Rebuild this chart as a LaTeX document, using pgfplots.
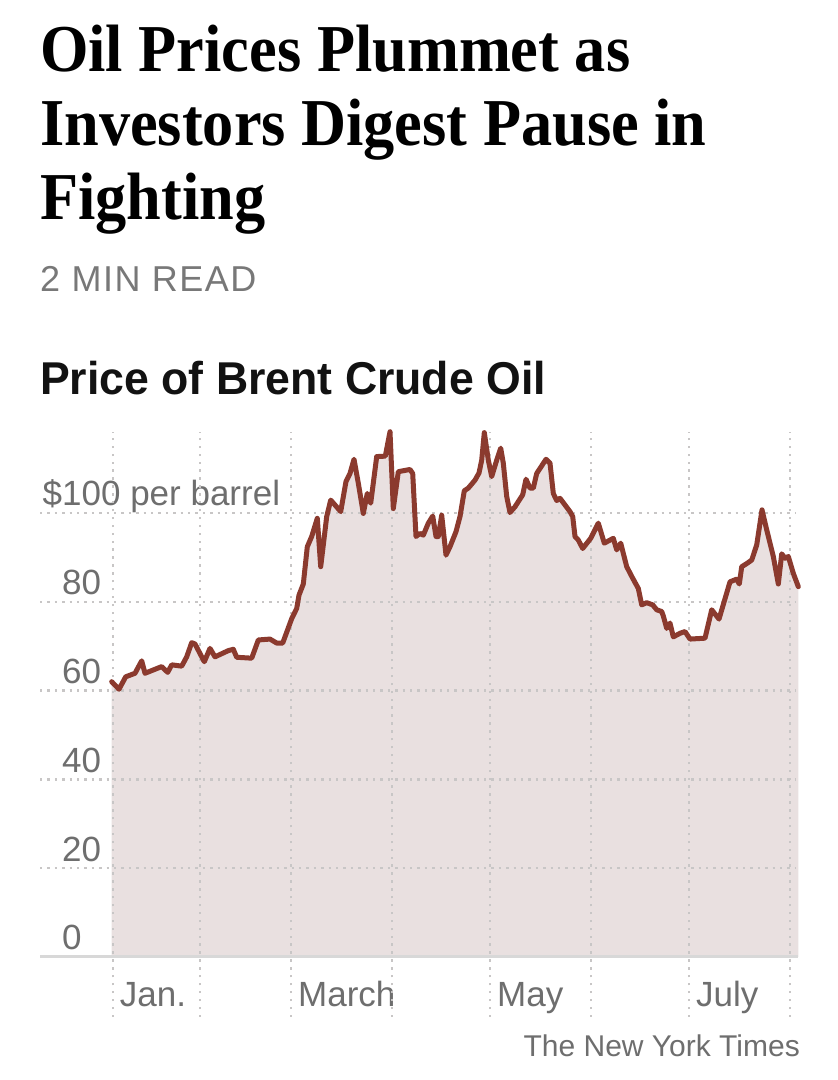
\documentclass[border=0pt]{standalone}
\usepackage{fontspec}
\setmainfont{Liberation Sans}
\newfontfamily\titlefont{Liberation Serif}[FakeStretch=0.93]
\newfontfamily\readfont{Liberation Sans}[LetterSpace=4]
\newfontfamily\headfont{Liberation Sans}[FakeStretch=0.97]
\usepackage{pgfplots}
\usepackage{pgfplotstable}
\pgfplotsset{compat=1.18}
\definecolor{linec}{RGB}{139,58,46}
\definecolor{fillc}{RGB}{233,224,224}
\definecolor{gridc}{RGB}{200,198,198}
\definecolor{labc}{RGB}{110,110,110}
\definecolor{basec}{RGB}{216,216,216}
\definecolor{readc}{RGB}{120,120,120}

% x = horizontal position (chart units, Jan 1 = 112.7, Aug 1 = 790), y = US$ per barrel
\pgfplotstableread{
x y
111.7 62.0
119 60.3
125.7 63.1
135 63.9
141.7 66.7
145 63.9
161.7 65.4
167.7 64.1
171.7 65.8
181.7 65.5
186.7 67.6
191.7 70.8
195 70.5
204.3 66.5
210 69.5
215 67.6
228.3 69.0
233.3 69.3
236.7 67.5
251.7 67.3
258.3 71.4
270 71.6
276.7 70.7
282.7 70.7
291.7 76.2
296.7 78.5
299 81.5
303.3 84.0
307.3 92.4
311.7 94.7
317.3 98.8
320.7 87.9
326.7 99.2
330.7 102.9
335 101.8
340.7 100.3
346 107.1
350 108.9
354 112.1
358.3 106.7
363.3 99.9
367.3 104.4
370.7 102.2
376.7 112.7
385.3 112.8
390 118.3
393.3 101.0
398.3 109.3
410 109.8
412.7 108.9
416 94.7
420 95.4
423.3 95.0
428.3 97.7
432.7 99.3
436 94.7
438.3 94.7
441.7 99.5
446 90.5
450 92.4
456 95.8
460 99.2
464.3 105.0
468.3 105.6
475 107.4
479 109.0
481.7 111.9
484.3 118.1
488.3 111.9
491.7 108.2
496.7 111.9
500.7 114.6
503.3 111.2
506.7 103.7
510 100.1
515 101.4
522.7 104.1
526 107.6
530 105.6
533.3 105.6
536.7 108.9
546 112.1
550 111.2
553.3 104.4
556.7 102.8
560 103.3
570 100.3
572.7 99.2
575 94.7
578.3 93.9
582.7 92.0
590.7 94.3
598.3 97.7
604.3 93.2
613.3 94.3
616.7 91.7
620.7 93.2
626.7 87.9
632.7 85.3
638.3 83.0
641.7 79.3
646.7 79.8
652.7 79.3
656.7 78.2
661.7 77.8
663.3 76.8
666.7 74.0
670 75.2
673.3 72.1
680 72.9
685 73.3
690 71.6
705 71.8
711.7 78.2
719 76.1
730 84.5
736.7 85.1
739.3 84.0
741.7 87.9
746.7 88.6
751.7 89.4
756.7 92.8
762 100.7
766.7 96.2
773.3 90.2
778.3 84.0
781.7 90.8
785 89.8
788.3 90.2
793.3 86.4
798.3 83.4
}\brent

\begin{document}
\begin{tikzpicture}[x=1bp,y=1bp]
\fill[white] (0,0) rectangle (838,1080);
% headline
\node[anchor=base west, inner sep=0pt] at (40,1008) {\titlefont\bfseries\fontsize{67bp}{74bp}\selectfont Oil Prices Plummet as};
\node[anchor=base west, inner sep=0pt] at (40,934) {\titlefont\bfseries\fontsize{67bp}{74bp}\selectfont Investors Digest Pause in};
\node[anchor=base west, inner sep=0pt] at (40,860) {\titlefont\bfseries\fontsize{67bp}{74bp}\selectfont Fighting};
\node[anchor=base west, inner sep=0pt, text=readc] at (40,788) {\readfont\fontsize{36bp}{40bp}\selectfont 2 MIN READ};
\node[anchor=base west, inner sep=0pt, text=black!93] at (40,685) {\headfont\bfseries\fontsize{46bp}{50bp}\selectfont Price of Brent Crude Oil};
\node[anchor=base east, inner sep=0pt, text=labc] at (800,23) {\fontsize{30bp}{34bp}\selectfont The New York Times};

\begin{axis}[
  at={(40bp,123bp)}, anchor=south west,
  scale only axis, width=758bp, height=525bp,
  xmin=40, xmax=798, ymin=0, ymax=118.24,
  clip=false,
  axis line style={draw=none},
  major tick length=0pt,
  ytick={0,20,40,60,80,100},
  yticklabels={0,20,40,60,80,\llap{\$}100 per barrel},
  yticklabel style={anchor=base west, inner sep=0pt, xshift=22bp, yshift=7bp,
    font=\fontsize{35bp}{40bp}\selectfont, text=labc},
  xtick={112.7,291,490,689},
  xticklabels={Jan.,March,May,July},
  xticklabel style={anchor=base west, inner sep=0pt, xshift=7bp, yshift=-50bp,
    font=\fontsize{35bp}{40bp}\selectfont, text=labc},
]
\addplot[fill=fillc, draw=none] table[x=x,y=y]{\brent} \closedcycle;
\pgfplotsinvokeforeach{20,40,60,80,100}{
  \addplot[gridc, line width=2.4bp, dash pattern=on 2.4bp off 5bp] coordinates {(40,#1) (795,#1)};
}
\pgfplotsinvokeforeach{112.7,200,291,392,490,591,689,790}{
  \addplot[gridc, line width=2.4bp, dash pattern=on 2.4bp off 5.5bp] coordinates {(#1,-13.5) (#1,118.24)};
}
\addplot[basec, line width=3bp] coordinates {(40,0) (798,0)};
\addplot[linec, line width=5bp, line join=round, line cap=round] table[x=x,y=y]{\brent};
\end{axis}
\end{tikzpicture}
\end{document}
